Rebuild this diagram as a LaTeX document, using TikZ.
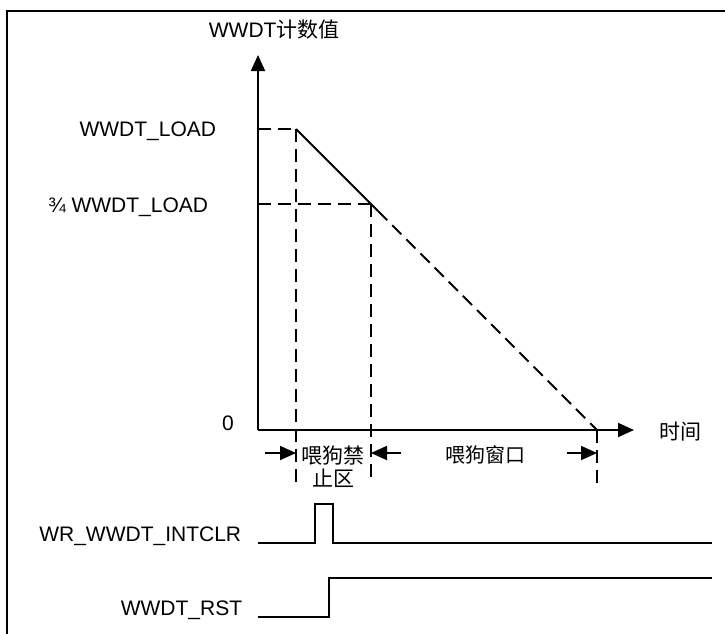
\documentclass[tikz,border=0pt]{standalone}
\usepackage{fontspec}
\setmainfont{Liberation Sans}
\newfontfamily\cjk{Noto Sans CJK SC}
\usetikzlibrary{arrows.meta}

\begin{document}
\begin{tikzpicture}[x=1pt, y=-1pt, >={Triangle[length=16pt,width=14pt]},
  line width=1.8pt, font=\fontsize{21}{25}\selectfont,
  guide/.style={dash pattern=on 13pt off 7pt},
  lbl/.style={inner sep=0pt}]
  \useasboundingbox (0,0) rectangle (725,633);
  % ============================================================
  % 像素坐标: x 向右, y 向下 (1 px = 1 pt)
  % ============================================================
  \def\Oy{430}    % 时间轴
  \def\Ly{129}    % WWDT_LOAD
  \def\Qy{204}    % 3/4 WWDT_LOAD
  \def\Ay{453}    % 区间箭头
  \def\Gy{483}    % 虚线下端

  % 1. 外框 (只见左边与上边)
  \draw[line width=2pt] (7,640) -- (7,11) -- (730,11);

  % 2. 坐标轴
  \coordinate (O) at (258,\Oy);
  \coordinate (Ytip) at (258,55);
  \coordinate (Xtip) at (634,\Oy);
  \draw[->] (O) -- (Ytip);
  \draw[->] (O) -- (Xtip);
  \node[lbl, anchor=base west] (ylabel) at (208,37) {WWDT{\cjk 计数值}};
  \node[lbl] (xlabel) at (680,432) {\cjk 时间};
  \node[lbl] (zero) at (228,423) {0};

  % 3. 计数值曲线
  \coordinate (Load) at (296,\Ly);
  \coordinate (Qtr) at (371,\Qy);
  \coordinate (End) at (597,\Oy);
  \draw (Load) -- (378,211);
  \draw[guide] (378,211) -- (End);
  \draw[guide] (258,\Ly) -- (Load);
  \draw[guide] (258,\Qy) -- (Qtr);
  \node[lbl, anchor=base east] (load) at (217,136) {WWDT\_LOAD};
  \node[lbl, anchor=base east] (qload) at (209,212) {¾ WWDT\_LOAD};

  % 4. 区间竖线
  \draw[guide] (Load) -- (296,\Gy);
  \draw[guide] (Qtr) -- (371,\Gy);
  \draw[guide] (End) -- (597,\Gy);

  % 5. 区间箭头与文字
  \coordinate (A1) at (265,\Ay);  \coordinate (B1) at (296,\Ay);
  \coordinate (A2) at (401,\Ay);  \coordinate (B2) at (371,\Ay);
  \coordinate (A3) at (567,\Ay);  \coordinate (B3) at (597,\Ay);
  \draw[->] (A1) -- (B1);
  \draw[->] (A2) -- (B2);
  \draw[->] (A3) -- (B3);
  \node[lbl, align=center, font=\cjk\fontsize{21}{23}\selectfont] (ban) at (333,467) {喂狗禁\\止区};
  \node[lbl, font=\cjk\fontsize{20}{20}\selectfont] (win) at (485,455) {喂狗窗口};

  % 6. 信号波形
  \node[lbl, anchor=base east] (intclr) at (242,541) {WR\_WWDT\_INTCLR};
  \draw (258,543) -- (315,543) -- (315,504) -- (333,504) -- (333,543) -- (712,543);
  \node[lbl, anchor=base east] (rst) at (243,615) {WWDT\_RST};
  \draw (258,617) -- (329,617) -- (329,578) -- (712,578);
\end{tikzpicture}
\end{document}
